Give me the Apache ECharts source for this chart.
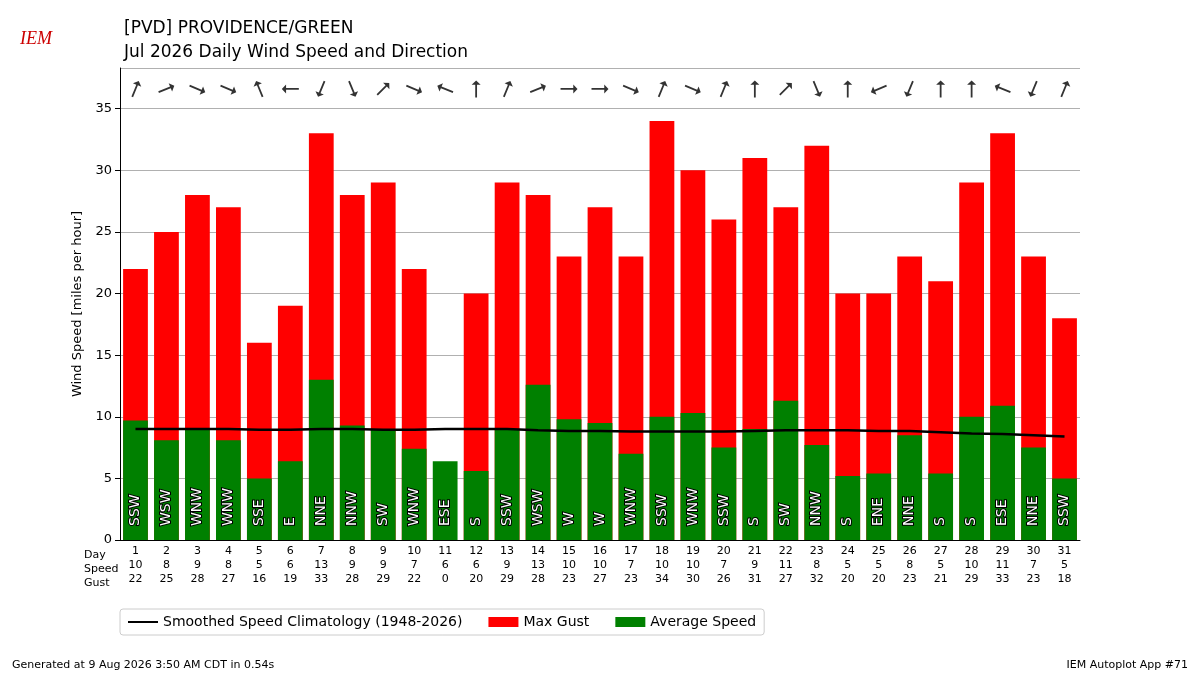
<!DOCTYPE html>
<html lang="en">
<head>
<meta charset="UTF-8">
<title>PVD Daily Wind</title>
<script src="https://cdn.jsdelivr.net/npm/echarts@6/dist/echarts.min.js"></script>
<style>
  body { margin: 0; background: #fff; }
  #chart { width: 1200px; height: 675px; }
</style>
</head>
<body>
<div id="chart"></div>
<script>
var days = [1,2,3,4,5,6,7,8,9,10,11,12,13,14,15,16,17,18,19,20,21,22,23,24,25,26,27,28,29,30,31];
var speedLabel = [10,8,9,8,5,6,13,9,9,7,6,6,9,13,10,10,7,10,10,7,9,11,8,5,5,8,5,10,11,7,5];
var gust = [22,25,28,27,16,19,33,28,29,22,0,20,29,28,23,27,23,34,30,26,31,27,32,20,20,23,21,29,33,23,18];
var avgSpeed = [9.7,8.1,9.0,8.1,5.0,6.4,13.0,9.3,9.0,7.4,6.4,5.6,9.0,12.6,9.8,9.5,7.0,10.0,10.3,7.5,9.0,11.3,7.7,5.2,5.4,8.5,5.4,10.0,10.9,7.5,5.0];
var direction = ['SSW','WSW','WNW','WNW','SSE','E','NNE','NNW','SW','WNW','ESE','S','SSW','WSW','W','W','WNW','SSW','WNW','SSW','S','SW','NNW','S','ENE','NNE','S','S','ESE','NNE','SSW'];
var climo = [9.0,9.0,9.0,9.0,8.95,8.95,9.0,9.0,8.95,8.95,9.0,9.0,9.0,8.9,8.85,8.85,8.8,8.8,8.8,8.8,8.85,8.9,8.9,8.9,8.85,8.85,8.75,8.65,8.6,8.5,8.4];

var compass = ['N','NNE','NE','ENE','E','ESE','SE','SSE','S','SSW','SW','WSW','W','WNW','NW','NNW'];
var font = 'DejaVu Sans';
var arrowPath = 'path://M5,0 L10,5 L6,5 L6,20 L4,20 L4,5 L0,5 Z';

var cats = days.map(function (d, i) { return d + '\n' + speedLabel[i] + '\n' + gust[i]; });
var arrowData = direction.map(function (d, i) {
  var deg = compass.indexOf(d) * 22.5;
  return { value: [i, 36.6], symbolRotate: -(deg + 180) };
});

var chart = echarts.init(document.getElementById('chart'));
chart.setOption({
  animation: false,
  textStyle: { fontFamily: font },
  title: {
    text: '[PVD] PROVIDENCE/GREEN\nJul 2026 Daily Wind Speed and Direction',
    left: 119, top: 12,
    textStyle: { fontFamily: font, fontSize: 17, fontWeight: 'normal', lineHeight: 24, color: '#000' }
  },
  graphic: [
    { type: 'text', left: 20, top: 30, style: { text: 'IEM', font: 'italic 18px serif', fill: '#c00' } },
    { type: 'text', left: 12, top: 660, style: { text: 'Generated at 9 Aug 2026 3:50 AM CDT in 0.54s', font: '11px DejaVu Sans', fill: '#000' } },
    { type: 'text', right: 12, top: 660, style: { text: 'IEM Autoplot App #71', font: '11px DejaVu Sans', fill: '#000' } },
    { type: 'text', left: 84, top: 548, style: { text: 'Day\nSpeed\nGust', font: '11px DejaVu Sans', lineHeight: 14, fill: '#000', align: 'left' } }
  ],
  legend: {
    bottom: 40, left: 120,
    itemWidth: 30, itemHeight: 10, itemGap: 26,
    borderColor: '#ccc', borderWidth: 1, borderRadius: 3, padding: [6, 8],
    textStyle: { fontFamily: font, fontSize: 14, color: '#000' },
    data: [
      { name: 'Smoothed Speed Climatology (1948-2026)', icon: 'path://M0,4 L30,4 L30,6 L0,6 Z', itemStyle: { color: '#000' } },
      { name: 'Max Gust', icon: 'rect' },
      { name: 'Average Speed', icon: 'rect' }
    ]
  },
  grid: { left: 120, right: 120, top: 68, bottom: 135 },
  xAxis: {
    type: 'category', data: cats,
    axisLine: { lineStyle: { color: '#000' } },
    axisTick: { alignWithLabel: true, lineStyle: { color: '#000' } },
    axisLabel: { color: '#000', fontSize: 11, lineHeight: 14, interval: 0, margin: 4 }
  },
  yAxis: {
    type: 'value', min: 0, max: 38.3, interval: 5,
    name: 'Wind Speed [miles per hour]', nameLocation: 'middle', nameGap: 34,
    nameTextStyle: { fontSize: 13, color: '#000' },
    axisLine: { show: true, lineStyle: { color: '#000' } },
    axisTick: { show: true, lineStyle: { color: '#000' } },
    axisLabel: { color: '#000', fontSize: 13, showMaxLabel: false },
    splitLine: { lineStyle: { color: '#b0b0b0' } }
  },
  series: [
    {
      name: 'Max Gust', type: 'bar', data: gust, barWidth: '80%',
      itemStyle: { color: '#ff0000' }
    },
    {
      name: 'Average Speed', type: 'bar', data: avgSpeed, barWidth: '80%', barGap: '-100%',
      itemStyle: { color: '#008000' },
      label: {
        show: true, position: 'insideBottom', rotate: 90, align: 'left', verticalAlign: 'middle',
        distance: 14, color: '#fff', textBorderColor: '#000', textBorderWidth: 2,
        fontSize: 14, fontFamily: font,
        formatter: function (p) { return direction[p.dataIndex]; }
      }
    },
    {
      name: 'Smoothed Speed Climatology (1948-2026)', type: 'line', data: climo,
      symbol: 'none', lineStyle: { color: '#000', width: 2.5 }, itemStyle: { color: '#000' }, z: 5
    },
    {
      name: 'arrows', type: 'scatter', data: arrowData,
      symbol: arrowPath, symbolSize: [9, 17], itemStyle: { color: '#000' }, z: 6
    }
  ]
});
</script>
</body>
</html>
